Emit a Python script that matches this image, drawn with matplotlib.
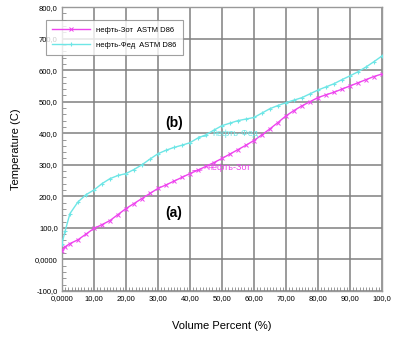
"""Distillation curves (ASTM D86) for two crude oils."""
import matplotlib
matplotlib.use("Agg")
import matplotlib.pyplot as plt
from matplotlib.ticker import MultipleLocator

plt.rcParams["font.family"] = ["Liberation Sans", "DejaVu Sans"]

# нефть-Зот (a)
zot_pct = [0, 1, 2.5, 5, 7.5, 10, 12.5, 15, 17.5, 20, 22.5, 25, 27.5, 30, 32.5, 35,
           37.5, 40, 42.5, 45, 47.5, 50, 52.5, 55, 57.5, 60, 62.5, 65, 67.5, 70,
           72.5, 75, 77.5, 80, 82.5, 85, 87.5, 90, 92.5, 95, 97.5, 100]
zot_temp = [28, 40, 50, 62, 80, 98, 110, 123, 142, 161, 177, 193, 209, 225, 236, 248,
            260, 272, 283, 295, 307, 320, 334, 348, 362, 377, 395, 414, 434, 455,
            472, 487, 500, 513, 522, 530, 540, 550, 560, 570, 580, 588]

# нефть-Фед (b)
fed_pct = [0, 1, 2.5, 5, 7.5, 10, 12.5, 15, 17.5, 20, 22.5, 25, 27.5, 30, 32.5, 35,
           37.5, 40, 42.5, 45, 47.5, 50, 52.5, 55, 57.5, 60, 62.5, 65, 67.5, 70,
           72.5, 75, 77.5, 80, 82.5, 85, 87.5, 90, 92.5, 95, 97.5, 100]
fed_temp = [50, 90, 145, 182, 205, 220, 240, 256, 266, 272, 285, 300, 318, 335, 346, 355,
            362, 370, 385, 395, 410, 424, 432, 440, 445, 450, 464, 478, 488, 497,
            505, 513, 525, 537, 547, 557, 570, 582, 595, 610, 627, 645]

y_ticks = [-100, 0, 100, 200, 300, 400, 500, 600, 700, 800]
y_labels = ["-100,0", "0,0000", "100,0", "200,0", "300,0", "400,0",
            "500,0", "600,0", "700,0", "800,0"]
x_ticks = [0, 10, 20, 30, 40, 50, 60, 70, 80, 90, 100]
x_labels = ["0,0000", "10,00", "20,00", "30,00", "40,00", "50,00",
            "60,00", "70,00", "80,00", "90,00", "100,0"]

MAGENTA = "#ee44ee"
CYAN = "#6ee6e6"

fig = plt.figure(figsize=(3.97, 3.41), dpi=100)
ax = fig.add_axes([0.156, 0.147, 0.806, 0.832])

ax.plot(zot_pct, zot_temp, color=MAGENTA, linewidth=1.0, marker="x",
        markersize=3, markeredgewidth=0.7, label="нефть-Зот  ASTM D86", zorder=3)
ax.plot(fed_pct, fed_temp, color=CYAN, linewidth=1.0, marker="+",
        markersize=3.5, markeredgewidth=0.8, label="нефть-Фед  ASTM D86", zorder=3)

ax.annotate("нефть-Зот", xy=(40, 280), xytext=(45.5, 291), color=MAGENTA,
            fontsize=6.5, va="center",
            arrowprops=dict(arrowstyle="-", color=MAGENTA, lw=0.8))
ax.annotate("нефть-Фед", xy=(42, 388), xytext=(47, 400), color=CYAN,
            fontsize=6.5, va="center",
            arrowprops=dict(arrowstyle="-", color=CYAN, lw=0.8))

ax.text(35, 432, "(b)", fontsize=10, fontweight="bold", ha="center", va="center")
ax.text(35, 146, "(a)", fontsize=10, fontweight="bold", ha="center", va="center")

ax.set_xlim(0, 100)
ax.set_ylim(-100, 800)
ax.set_xticks(x_ticks)
ax.set_xticklabels(x_labels)
ax.set_yticks(y_ticks)
ax.set_yticklabels(y_labels)
ax.xaxis.set_minor_locator(MultipleLocator(1))
ax.yaxis.set_minor_locator(MultipleLocator(20))
ax.tick_params(which="both", direction="in", labelsize=5.5, color="#888888",
               pad=3)
ax.tick_params(which="major", length=0)
ax.tick_params(which="minor", length=3, width=0.6)

ax.grid(True, which="major", color="#808080", linewidth=1.1)
ax.set_axisbelow(True)
for spine in ax.spines.values():
    spine.set_color("#999999")
    spine.set_linewidth(1.0)

ax.set_xlabel("Volume Percent (%)", fontsize=8, labelpad=14)
ax.set_ylabel("Temperature (C)", fontsize=8, labelpad=10)

leg = fig.legend(loc="upper left", bbox_to_anchor=(0.116, 0.94), fontsize=5.5,
                 frameon=True, fancybox=False, borderpad=0.8, handlelength=5,
                 labelspacing=1.0, borderaxespad=0)
leg.get_frame().set_edgecolor("#888888")
leg.get_frame().set_linewidth(0.8)

fig.savefig("out.png", dpi=100)
